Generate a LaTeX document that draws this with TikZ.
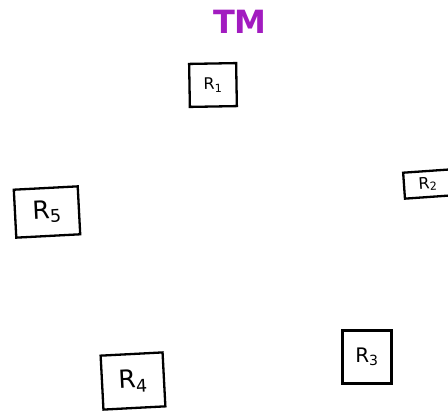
\documentclass[tikz,border=0pt]{standalone}
\usepackage{fontspec}
\setmainfont{DejaVu Sans}
\definecolor{tmpurple}{HTML}{A21CC0}
\begin{document}
\begin{tikzpicture}[x=1pt,y=-1pt,
  rbox/.style={draw=black, line width=2.3pt, rectangle, inner sep=0pt, font=\fontsize{20}{22}\selectfont},
  bigr/.style={font=\fontsize{25}{27}\selectfont},
  smallr/.style={font=\fontsize{16}{18}\selectfont},
  tmlabel/.style={text=tmpurple, font=\fontsize{32}{34}\selectfont\bfseries}]
\useasboundingbox (0,0) rectangle (448,416);
\node[tmlabel] (tm) at (240,22) {TM};
\node[rbox, smallr, minimum width=47pt, minimum height=43pt, rotate=1] (r1) at (213,85) {R\textsubscript{1}};
\node[rbox, smallr, minimum width=48pt, minimum height=26pt, rotate=4] (r2) at (428,184) {R\textsubscript{2}};
\node[rbox, bigr, minimum width=64pt, minimum height=48pt, rotate=3] (r5) at (47,212) {R\textsubscript{5}};
\node[rbox, bigr, minimum width=62pt, minimum height=54pt, rotate=3] (r4) at (133,381) {R\textsubscript{4}};
\node[rbox, minimum width=49pt, minimum height=53pt] (r3) at (367,357) {R\textsubscript{3}};
\end{tikzpicture}
\end{document}
